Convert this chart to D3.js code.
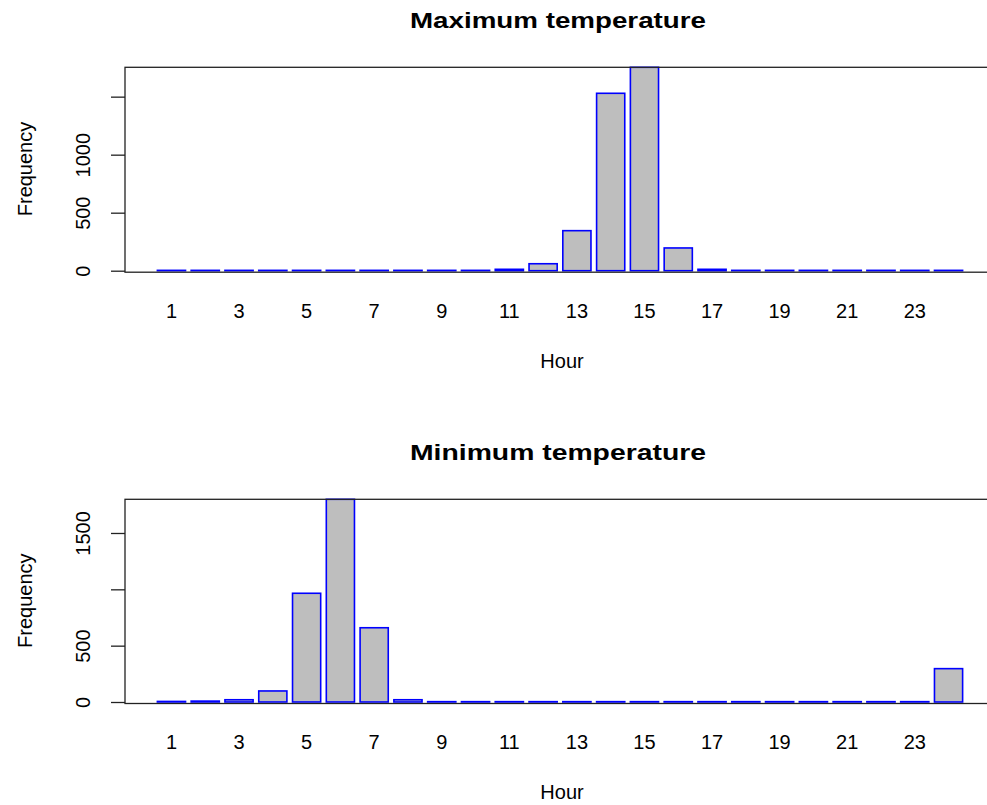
<!DOCTYPE html>
<html>
<head>
<meta charset="utf-8">
<script src="https://cdn.jsdelivr.net/npm/d3@7"></script>
<style>
  body { margin: 0; background: #fff; }
  svg text { font-family: "Liberation Sans", Arial, sans-serif; fill: #000; }
</style>
</head>
<body>
<div id="chart"></div>
<script>
// hours 1..24
const hours = d3.range(1, 25);

const maxTempCounts = [3, 3, 3, 3, 3, 3, 3, 3, 3, 3, 12, 60, 345, 1529, 1753, 196, 12, 3, 3, 3, 3, 3, 3, 3];
const minTempCounts = [5, 8, 20, 98, 965, 1799, 659, 20, 3, 3, 3, 3, 3, 3, 3, 3, 3, 3, 3, 3, 3, 3, 3, 296];

// only every other hour gets a label (R drops the overlapping ones)
const hourLabels = [1, 3, 5, 7, 9, 11, 13, 15, 17, 19, 21, 23];

const yTicks = [0, 500, 1000, 1500];
const maxYLabels = ["0", "500", "1000", ""];
const minYLabels = ["0", "500", "", "1500"];

const width = 987, height = 805;

const svg = d3.select("#chart").append("svg")
  .attr("width", width)
  .attr("height", height);

// bar positions in barplot units: space 0.2, width 1
const x = d3.scaleLinear().domain([-0.95, 29.95]).range([125, 995]);
const barLeft = i => 0.2 + i * 1.2;

function drawPanel(opts) {
  const g = svg.append("g");
  const y = d3.scaleLinear()
    .domain([0, d3.max(opts.values)])
    .range([opts.zeroY, opts.topY]);

  g.selectAll("rect.bar")
    .data(opts.values)
    .enter().append("rect")
    .attr("class", "bar")
    .attr("x", (d, i) => x(barLeft(i)))
    .attr("width", x(1) - x(0))
    .attr("y", d => y(d))
    .attr("height", d => y(0) - y(d))
    .attr("fill", "#bebebe")
    .attr("stroke", "#0000ff")
    .attr("stroke-width", 1.6);

  // box (right side runs off the page)
  g.append("rect")
    .attr("x", 125)
    .attr("y", opts.topY)
    .attr("width", 870)
    .attr("height", opts.zeroY + 1.5 - opts.topY)
    .attr("fill", "none")
    .attr("stroke", "#222")
    .attr("stroke-width", 1.3);

  // y axis
  const yAxis = d3.axisLeft(y)
    .tickValues(yTicks)
    .tickSize(14)
    .tickFormat((d, i) => opts.yLabels[i]);
  const ya = g.append("g")
    .attr("transform", "translate(125,0)")
    .call(yAxis);
  ya.select(".domain").remove();
  ya.selectAll(".tick line").attr("stroke", "#222").attr("stroke-width", 1.3);
  ya.selectAll(".tick text")
    .attr("x", null).attr("dy", null)
    .attr("transform", "translate(-35,0) rotate(-90)")
    .attr("text-anchor", "middle")
    .style("font-size", "20px");

  // x labels under bars
  g.selectAll("text.xl")
    .data(hourLabels)
    .enter().append("text")
    .attr("class", "xl")
    .attr("x", h => x(barLeft(h - 1) + 0.5))
    .attr("y", opts.zeroY + 47)
    .attr("text-anchor", "middle")
    .style("font-size", "20px")
    .text(h => h);

  g.append("text")
    .attr("x", 562)
    .attr("y", opts.zeroY + 97)
    .attr("text-anchor", "middle")
    .style("font-size", "20px")
    .text("Hour");

  g.append("text")
    .attr("transform", `translate(32,${(opts.topY + opts.zeroY) / 2}) rotate(-90)`)
    .attr("text-anchor", "middle")
    .style("font-size", "20px")
    .text("Frequency");

  g.append("text")
    .attr("x", 558)
    .attr("y", opts.topY - 39)
    .attr("text-anchor", "middle")
    .style("font-size", "22px")
    .style("font-weight", "bold")
    .attr("textLength", 296)
    .attr("lengthAdjust", "spacingAndGlyphs")
    .text(opts.title);
}

drawPanel({ values: maxTempCounts, topY: 67.3, zeroY: 270.7, yLabels: maxYLabels, title: "Maximum temperature" });
drawPanel({ values: minTempCounts, topY: 499.3, zeroY: 702, yLabels: minYLabels, title: "Minimum temperature" });
</script>
</body>
</html>
